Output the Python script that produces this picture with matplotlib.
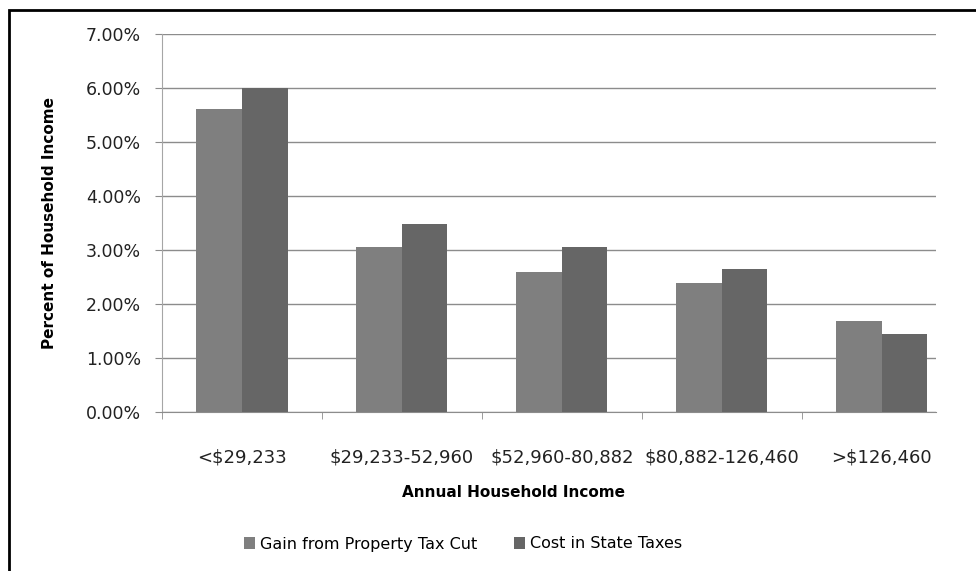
import numpy as np
import matplotlib.pyplot as plt
from matplotlib.patches import Rectangle

categories = ['<$29,233', '$29,233-52,960', '$52,960-80,882', '$80,882-126,460', '>$126,460']
gain = [5.62, 3.06, 2.60, 2.39, 1.69]
cost = [6.00, 3.48, 3.06, 2.64, 1.45]
yticks = [0, 1, 2, 3, 4, 5, 6, 7]

W, H = 976, 571
fig = plt.figure(figsize=(W/100, H/100), dpi=100)
ax = fig.add_axes([162/W, (H-412)/H, (936-162)/W, 378/H])

x = np.arange(len(categories))
bw = 0.285
ax.bar(x - bw/2, gain, bw, color='#7f7f7f', label='Gain from Property Tax Cut', zorder=3)
ax.bar(x + bw/2, cost, bw, color='#666666', label='Cost in State Taxes', zorder=3)

ax.set_yticks(yticks)
ax.set_yticklabels(['%.2f%%' % v for v in yticks], fontsize=12.5, color='#222222')
ax.set_xticks(x)
ax.set_xticklabels(categories, fontsize=13, color='#222222')
ax.set_xticks(np.arange(-0.5, 4, 1), minor=True)
ax.set_ylim(0, 7)
ax.set_xlim(-0.5, 4.34)
ax.tick_params(axis='x', which='major', length=0, pad=26)
ax.tick_params(axis='x', which='minor', length=5, color='#8c8c8c', direction='out')
ax.tick_params(axis='y', length=5, color='#8c8c8c', pad=10)
ax.grid(axis='y', color='#8c8c8c', lw=1, zorder=0)
for s in ['top', 'right']:
    ax.spines[s].set_visible(False)
ax.spines['left'].set_color('#a6a6a6')
ax.spines['bottom'].set_color('#8c8c8c')

ax.set_ylabel('Percent of Household Income', fontsize=11, fontweight='bold', labelpad=21)
ax.set_xlabel('Annual Household Income', fontsize=11, fontweight='bold')
ax.xaxis.set_label_coords((514-162)/774, -(485-412)/378)

ax.legend(loc='center', bbox_to_anchor=((463-162)/774, -(544-412)/378), ncol=2, frameon=False,
          fontsize=11.5, handlelength=0.7, handleheight=0.7, handletextpad=0.3,
          columnspacing=2.3)

fig.patches.append(Rectangle((9/W, -0.1), 1.1, (H-10)/H + 0.1, transform=fig.transFigure,
                             fill=False, edgecolor='black', lw=2))

fig.savefig('out.png', dpi=100)
